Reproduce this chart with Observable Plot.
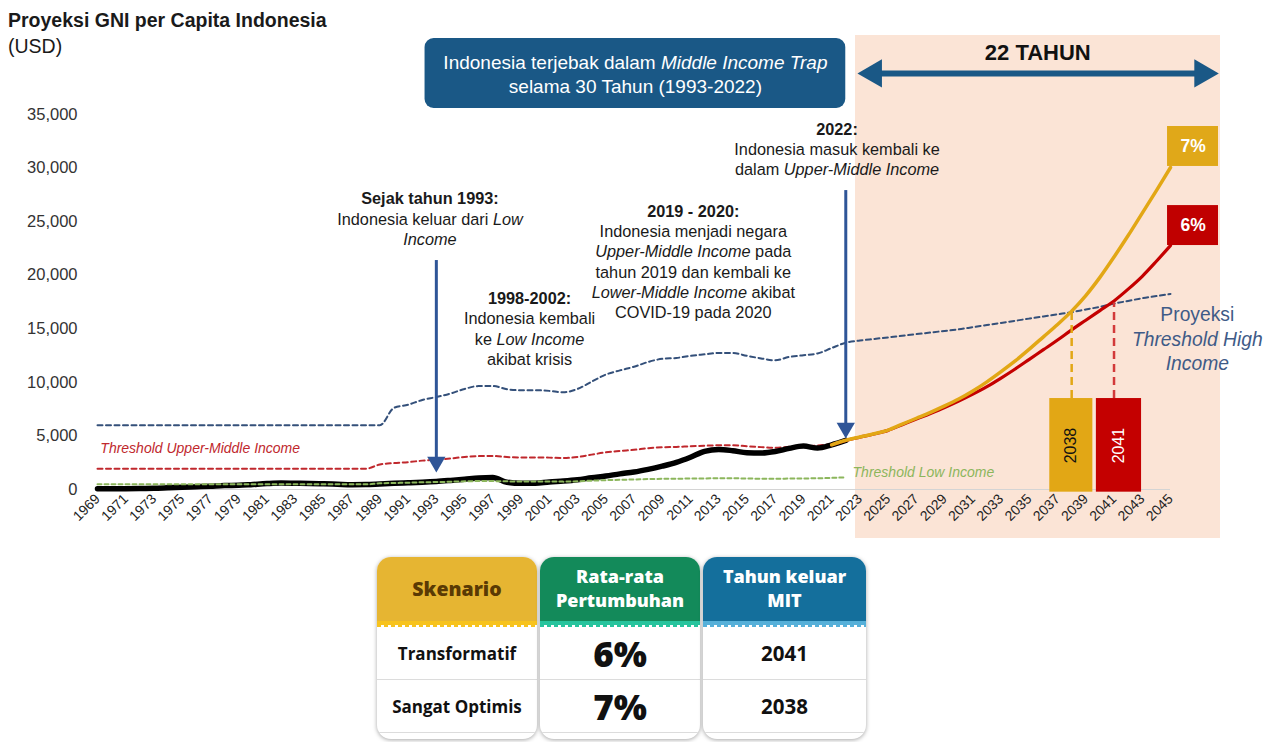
<!DOCTYPE html>
<html>
<head>
<meta charset="utf-8">
<script src="https://cdn.jsdelivr.net/npm/d3@7"></script>
<script src="https://cdn.jsdelivr.net/npm/@observablehq/plot@0.6"></script>
<style>
  body { margin: 0; background: #fff; font-family: "Liberation Sans", Arial, sans-serif; }
  #wrap { position: relative; width: 1272px; height: 742px; overflow: hidden; }
  #chart { position: absolute; left: 0; top: 0; }
  #title { position: absolute; left: 8px; top: 9px; font-weight: bold; font-size: 19.5px; color: #1a1a1a; }
  #unit { position: absolute; left: 8px; top: 35px; font-size: 19.5px; color: #1a1a1a; }
  #table { position: absolute; left: 377px; top: 557px; display: flex; gap: 3px; }
  .col { background: #fff; border-radius: 14px; box-shadow: 0 1px 4px rgba(0,0,0,0.35); overflow: hidden; height: 182px; }
  .hd { height: 64px; display: flex; align-items: center; justify-content: center; text-align: center;
        font-family: "Open Sans", sans-serif; font-weight: 800; font-size: 18px; line-height: 1.32; }
  .strip { height: 4px; }
  .dash { height: 2px; }
  .cell { height: 52px; display: flex; align-items: center; justify-content: center; border-bottom: 1px solid #dcdcdc;
          font-family: "Open Sans", sans-serif; font-weight: 700; color: #111; }
</style>
</head>
<body>
<div id="wrap">
  <div id="chart"></div>
  <div id="title">Proyeksi GNI per Capita Indonesia</div>
  <div id="unit">(USD)</div>
  <div id="table"></div>
</div>
<script>
// ---------------- data ----------------
const years = d3.range(1969, 2023);
const gniActual = [70,80,80,90,110,160,210,260,310,370,
  390,470,550,600,580,560,530,490,450,460,
  520,580,630,680,750,850,960,1080,1110,680,
  580,580,710,790,910,1100,1260,1460,1630,1880,
  2180,2530,3010,3560,3740,3620,3430,3400,3540,3840,
  4050,3870,4170,4580];
const thresholdUpperMiddle = [1940,1940,1940,1940,1940,1940,1940,1940,1940,1940,
  1940,1940,1940,1940,1940,1940,1940,1940,1940,1940,
  2335,2465,2555,2695,2785,2895,3035,3115,3125,3030,
  2995,2995,2975,2935,3035,3255,3465,3595,3705,3855,
  3945,3975,4035,4085,4125,4125,4035,3955,3895,3995,
  4045,4095,4255,4465];
const thresholdLow = [480,480,480,480,480,480,480,480,480,480,
  480,480,480,480,480,480,480,480,480,480,
  580,610,635,675,695,725,765,785,785,760,
  755,755,745,735,765,825,875,905,935,975,
  995,1005,1025,1035,1045,1045,1025,1005,995,1025,
  1035,1045,1085,1135];
const highYears = d3.range(1969, 2046);
const thresholdHigh = [6000,6000,6000,6000,6000,6000,6000,6000,6000,6000,
  6000,6000,6000,6000,6000,6000,6000,6000,6000,6000,6000,
  7620,7910,8355,8625,8955,9385,9655,9655,9360,9265,
  9265,9205,9075,9385,10065,10725,11115,11455,11905,12195,
  12275,12475,12615,12745,12735,12475,12235,12055,12375,12535,
  12695,13205,13700,
  13900,14050,14200,14350,14500,14650,14800,14950,15150,15350,
  15550,15750,15950,16150,16350,16550,16800,17050,17350,17600,
  17850,18050,18250];
const projYears = d3.range(2021, 2046);
const proj6 = [4170,4580,4880,5180,5520,6050,6580,7100,7650,8250,
  8900,9600,10400,11250,12150,13050,13950,14900,15800,16700,
  17600,18700,19900,21300,22770];
const proj7 = [4170,4600,4900,5200,5550,6100,6650,7200,7800,8450,
  9200,10050,11000,12000,13100,14250,15400,16650,18100,19800,
  21700,23700,25800,27900,30050];
const xTicks = d3.range(1969, 2046, 2);
const yTicks = d3.range(0, 35001, 5000);
const exitYears = [2038, 2041];
const exitValues = [16600, 17400];
const scenarioLabels = ["7%", "6%"];

// table
const skenario = ["Transformatif", "Sangat Optimis"];
const pertumbuhan = ["6%", "7%"];
const tahunKeluar = ["2041", "2038"];
const tableHeads = ["Skenario", "Rata-rata<br>Pertumbuhan", "Tahun keluar<br>MIT"];

// annotations (data units)
const notes = [
  {x: 1992.55, y: 25340, text: "**Sejak tahun 1993:**\nIndonesia keluar dari *Low*\n*Income*"},
  {x: 1999.6, y: 15073, text: "**1998-2002:**\nIndonesia kembali\nke *Low Income*\nakibat krisis"},
  {x: 2011.2, y: 21327, text: "**2019 - 2020:**\nIndonesia menjadi negara\n*Upper-Middle Income* pada\ntahun 2019 dan kembali ke\n*Lower-Middle Income* akibat\nCOVID-19 pada 2020"},
  {x: 2021.38, y: 31827, text: "**2022:**\nIndonesia masuk kembali ke\ndalam *Upper-Middle Income*"}
];
const downArrows = [
  {x: 1993, top: 21370, shaftEnd: 2700, tip: 1590},
  {x: 2022, top: 27900, shaftEnd: 5900, tip: 4760}
];

// ---------------- build rows ----------------
const actual = years.map((yr, i) => ({year: yr, v: gniActual[i]}));
const um = years.map((yr, i) => ({year: yr, v: thresholdUpperMiddle[i]}));
const low = years.map((yr, i) => ({year: yr, v: thresholdLow[i]}));
const high = highYears.map((yr, i) => ({year: yr, v: thresholdHigh[i]}));
const p6 = projYears.map((yr, i) => ({year: yr, v: proj6[i]}));
const p7 = projYears.map((yr, i) => ({year: yr, v: proj7[i]}));

const YEL = "#e2a715", RED = "#c40000", ARROW = "#2f5597", NAVY = "#1a5886";

const exitBars = [
  {x1: 2036.45, x2: 2039.5, fill: YEL, label: "2038", tc: "#111", fw: "bold", xc: 2037.97},
  {x1: 2039.75, x2: 2042.95, fill: RED, label: "2041", tc: "#fff", fw: "normal", xc: 2041.35}
];
const exitDash = exitYears.map((yr, i) => ({x: yr, top: exitValues[i], color: i === 0 ? YEL : "#d23a3a"}));
const scenBoxes = [
  {label: scenarioLabels[0], y1: 30150, y2: 33880, fill: "#e0a819"},
  {label: scenarioLabels[1], y1: 22770, y2: 26500, fill: "#c00000"}
];

const chart = Plot.plot({
  width: 1272,
  height: 548,
  marginLeft: 97,
  marginRight: 102,
  marginTop: 114,
  marginBottom: 59,
  style: {fontFamily: "'Liberation Sans', Arial, sans-serif", background: "transparent", overflow: "visible"},
  x: {domain: [1969, 2045]},
  y: {domain: [0, 35000]},
  marks: [
    // projection shading
    Plot.rect([{x1: 2022.69, x2: 2048.54, y1: -4573, y2: 42373}], {x1: "x1", x2: "x2", y1: "y1", y2: "y2", fill: "#fbe4d6"}),
    Plot.ruleY([0], {stroke: "#d4d4d4", strokeWidth: 1}),
    Plot.axisY({ticks: yTicks, tickSize: 0, tickPadding: 20, tickFormat: d3.format(","), label: null, fontSize: 16.5, color: "#333"}),
    Plot.axisX({ticks: xTicks, tickSize: 0, tickPadding: 7, tickRotate: -45, tickFormat: "d", label: null, fontSize: 14, color: "#222"}),
    // threshold lines
    Plot.line(high, {x: "year", y: "v", stroke: "#34507a", strokeWidth: 2, strokeDasharray: "5,3.5", curve: "monotone-x"}),
    Plot.line(um, {x: "year", y: "v", stroke: "#c0282d", strokeWidth: 2, strokeDasharray: "5,3.5", curve: "monotone-x"}),
    Plot.line(actual, {x: "year", y: "v", stroke: "#000", strokeWidth: 5.5, curve: "monotone-x", strokeLinecap: "round"}),
    Plot.line(low, {x: "year", y: "v", stroke: "#8cb65c", strokeWidth: 2, strokeDasharray: "4,3", curve: "monotone-x"}),
    // projections
    Plot.line(p6, {x: "year", y: "v", stroke: RED, strokeWidth: 3.2, curve: "monotone-x"}),
    Plot.line(p7, {x: "year", y: "v", stroke: YEL, strokeWidth: 3.5, curve: "monotone-x"}),
    // exit year dashes and bars
    Plot.ruleX(exitDash, {x: "x", y1: 8490, y2: "top", stroke: "color", strokeWidth: 2.5, strokeDasharray: "8,5"}),
    Plot.rect(exitBars, {x1: "x1", x2: "x2", y1: -250, y2: 8490, fill: "fill"}),
    Plot.text(exitBars, {x: "xc", y: 4100, text: "label", rotate: -90, fill: "tc", fontSize: 16, fontWeight: (d) => d.fw}),
    // scenario boxes
    Plot.rect(scenBoxes, {x1: 2044.79, x2: 2048.4, y1: "y1", y2: "y2", fill: "fill"}),
    Plot.text(scenBoxes, {x: 2046.6, y: (d) => (d.y1 + d.y2) / 2, text: "label", fill: "#fff", fontSize: 17.5, fontWeight: "bold"}),
    // header box
    Plot.rect([{x1: 1992.2, x2: 2022.0, y1: 35560, y2: 42090}], {x1: "x1", x2: "x2", y1: "y1", y2: "y2", fill: NAVY, rx: 9}),
    Plot.text([{x: 2007.1, y: 38830, t: "Indonesia terjebak dalam *Middle Income Trap*\nselama 30 Tahun (1993-2022)"}], {x: "x", y: "y", text: "t", fill: "#fff", fontSize: 19, lineHeight: 1.26}),
    // 22 tahun arrow
    Plot.ruleY([38830], {x1: 2023.6, x2: 2047.6, stroke: NAVY, strokeWidth: 6}),
    Plot.dot([{x: 2022.85}], {x: "x", y: 38830, symbol: "triangle", r: 10.5, fill: NAVY, rotate: -90, dx: 16}),
    Plot.dot([{x: 2048.4}], {x: "x", y: 38830, symbol: "triangle", r: 10.5, fill: NAVY, rotate: 90, dx: -16}),
    Plot.text([{x: 2035.6, y: 40700, t: "22 TAHUN"}], {x: "x", y: "y", text: "t", fill: "#111", fontSize: 22, fontWeight: "bold"}),
    // down arrows
    Plot.ruleX(downArrows, {x: "x", y1: "top", y2: "shaftEnd", stroke: ARROW, strokeWidth: 3}),
    Plot.dot(downArrows, {x: "x", y: "tip", symbol: "triangle", r: 6.8, fill: ARROW, rotate: 180, dy: -10.5}),
    // annotations
    Plot.text(notes, {x: "x", y: "y", text: "text", fill: "#1a1a1a", fontSize: 16.3, lineHeight: 1.245}),
    Plot.text([{x: 1969.2, y: 3830, t: "Threshold Upper-Middle Income"}], {x: "x", y: "y", text: "t", fill: "#c0282d", fontSize: 14, fontStyle: "italic", textAnchor: "start"}),
    Plot.text([{x: 2022.48, y: 1590, t: "Threshold Low Income"}], {x: "x", y: "y", text: "t", fill: "#8cb65c", fontSize: 14, fontStyle: "italic", textAnchor: "start"}),
    Plot.text([{x: 2046.9, y: 14140, t: "Proyeksi\n*Threshold High*\n*Income*"}], {x: "x", y: "y", text: "t", fill: "#3f5b87", fontSize: 19.3, lineHeight: 1.26})
  ]
});

// rich text: **bold** and *italic*
function richify(root) {
  const ns = "http://www.w3.org/2000/svg";
  root.querySelectorAll("text, tspan").forEach((el) => {
    if (el.children.length) return;
    const s = el.textContent;
    if (!s.includes("*")) return;
    el.textContent = "";
    s.split(/(\*\*[^*]+\*\*|\*[^*]+\*)/).forEach((part) => {
      if (!part) return;
      if (part.startsWith("**")) {
        const t = document.createElementNS(ns, "tspan");
        t.setAttribute("font-weight", "bold");
        t.textContent = part.slice(2, -2);
        el.appendChild(t);
      } else if (part.startsWith("*")) {
        const t = document.createElementNS(ns, "tspan");
        t.setAttribute("font-style", "italic");
        t.textContent = part.slice(1, -1);
        el.appendChild(t);
      } else {
        el.appendChild(document.createTextNode(part));
      }
    });
  });
}
richify(chart);
document.getElementById("chart").appendChild(chart);

// ---------------- table ----------------
const colSpecs = [
  {w: 160, bg: "#e6b532", strip: "#f7c31e", color: "#5a3a04", cells: skenario, fs: "17px", fw: 700},
  {w: 160, bg: "#138a5a", strip: "#27c49d", color: "#fff", cells: pertumbuhan, fs: "35px", fw: 800},
  {w: 163, bg: "#146f9c", strip: "#56b0d9", color: "#fff", cells: tahunKeluar, fs: "20.5px", fw: 700}
];
const tbl = document.getElementById("table");
colSpecs.forEach((c, i) => {
  const col = document.createElement("div");
  col.className = "col";
  col.style.width = c.w + "px";
  let html = `<div class="hd" style="background:${c.bg};color:${c.color};${i === 0 ? "font-size:19.5px;" : ""}">${tableHeads[i]}</div>`;
  html += `<div class="strip" style="background:${c.strip}"></div>`;
  html += `<div class="dash" style="background:repeating-linear-gradient(90deg, ${c.strip} 0 4px, #fff 4px 7px)"></div>`;
  c.cells.forEach((v) => {
    html += `<div class="cell" style="font-size:${c.fs};font-weight:${c.fw}">${v}</div>`;
  });
  col.innerHTML = html;
  tbl.appendChild(col);
});
</script>
</body>
</html>
